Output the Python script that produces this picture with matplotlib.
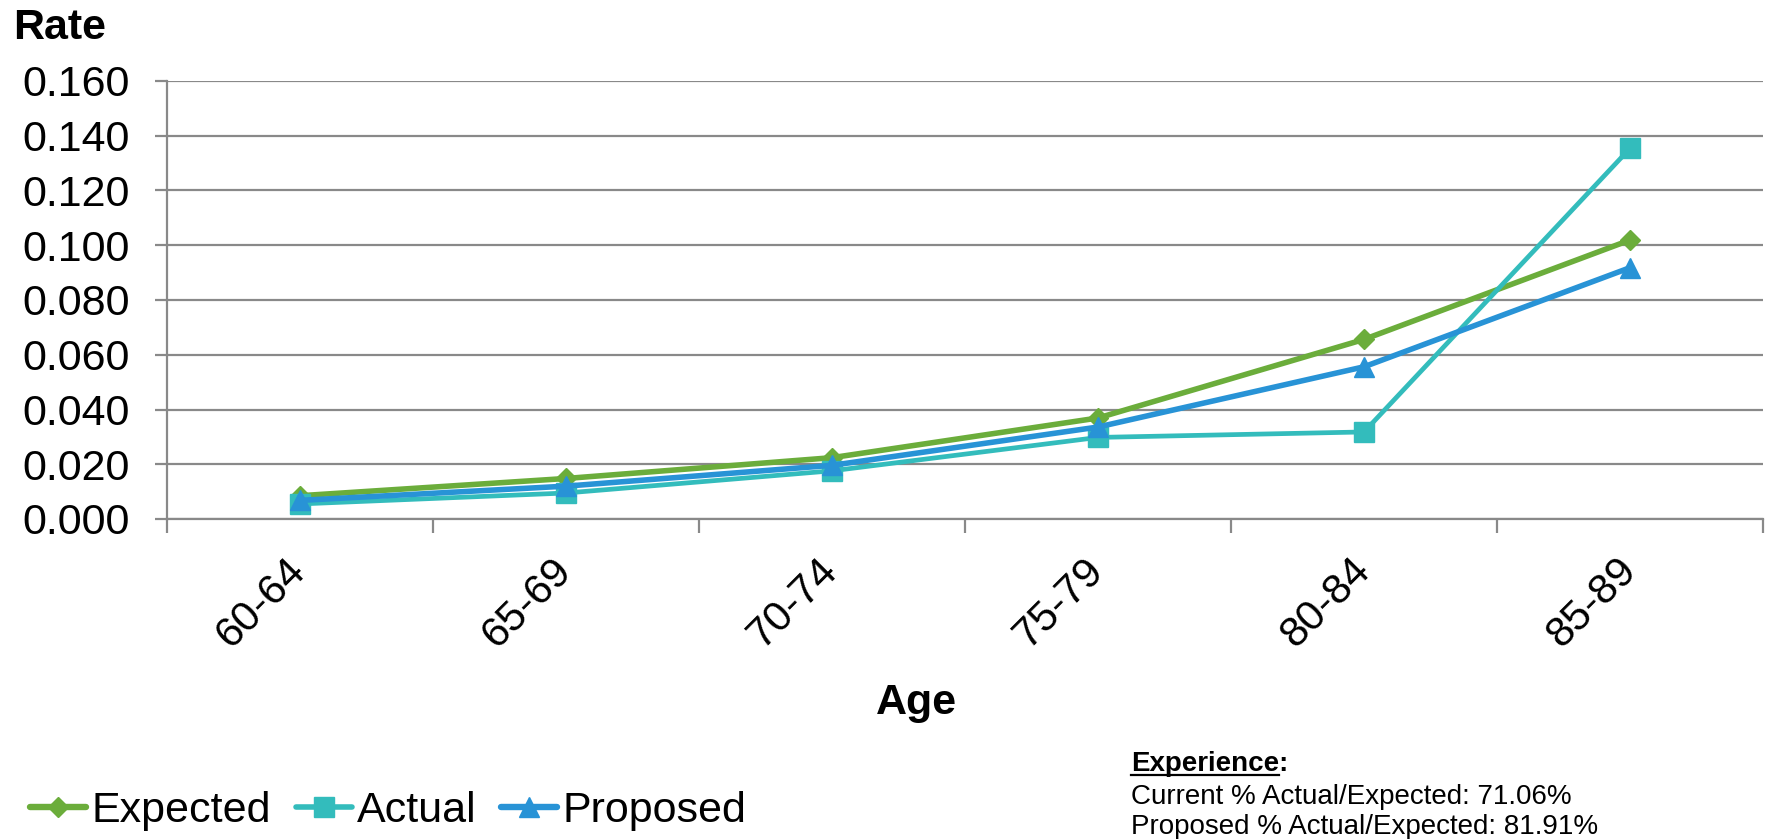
import matplotlib
matplotlib.use("Agg")
import matplotlib.pyplot as plt
from matplotlib.lines import Line2D
from matplotlib.ticker import FixedLocator, FormatStrFormatter
from matplotlib.transforms import ScaledTranslation

plt.rcParams['font.family'] = ['Liberation Sans', 'DejaVu Sans']

# Mortality-style rates by age band
age_bands = ["60-64", "65-69", "70-74", "75-79", "80-84", "85-89"]
expected = [0.0085, 0.0148, 0.0224, 0.0369, 0.0656, 0.1019]
actual = [0.0055, 0.0095, 0.0176, 0.0298, 0.0318, 0.1354]
proposed = [0.0068, 0.0120, 0.0196, 0.0336, 0.0556, 0.0918]

summary_title = "Experience"
summary_lines = ["Current % Actual/Expected: 71.06%",
                 "Proposed % Actual/Expected: 81.91%"]

GREEN = "#6BAD3B"
TEAL = "#33BCBC"
BLUE = "#2893D6"
GRID = "#898989"

W, H = 1773, 839
fig = plt.figure(figsize=(W / 100, H / 100), dpi=100)
ax = fig.add_axes([167 / W, 1 - 519 / H, (1763 - 167) / W, (519 - 81) / H])

series = [
    ("Expected", expected, GREEN, 4.0, "D", 10),
    ("Actual", actual, TEAL, 3.4, "s", 14),
    ("Proposed", proposed, BLUE, 4.0, "^", 14),
]

x = list(range(len(age_bands)))
handles = []
for z, (name, vals, col, lw, mk, ms) in enumerate(series):
    ax.plot(x, vals, color=col, lw=lw, marker=mk, ms=ms, zorder=3 + z)
    handles.append(Line2D([], [], color=col, lw=lw + 0.6, marker=mk, ms=ms,
                          solid_capstyle="round", label=name))

ax.set_xlim(-0.5, len(age_bands) - 0.5)
ax.set_ylim(0, 0.16)

# y axis: gridlines every 0.02
yt = [i * 0.02 for i in range(9)]
ax.set_yticks(yt)
ax.yaxis.set_major_formatter(FormatStrFormatter("%.3f"))
ax.grid(axis="y", color=GRID, lw=1.6, zorder=0)
ax.tick_params(axis="y", length=9, width=1.6, color=GRID, labelsize=31, pad=18)

# x axis: category labels centred, tick marks on boundaries
ax.set_xticks(x)
ax.set_xticklabels(age_bands, rotation=45, ha="right", va="center",
                   rotation_mode="anchor", fontsize=30.5)
shift = ScaledTranslation(7 / 72, 0, fig.dpi_scale_trans)
for lbl in ax.get_xticklabels():
    lbl.set_transform(lbl.get_transform() + shift)
ax.xaxis.set_minor_locator(FixedLocator([i - 0.5 for i in range(len(age_bands) + 1)]))
ax.tick_params(axis="x", which="major", length=0, pad=33)
ax.tick_params(axis="x", which="minor", length=10, width=1.6, color=GRID)

for s in ["top", "right"]:
    ax.spines[s].set_visible(False)
for s in ["left", "bottom"]:
    ax.spines[s].set_color(GRID)
    ax.spines[s].set_linewidth(1.6)
ax.set_axisbelow(True)

fig.text(13 / W, 1 - 28 / H, "Rate", fontsize=31, fontweight="bold",
         ha="left", va="center")
fig.text(916 / W, 1 - 703 / H, "Age", fontsize=31, fontweight="bold",
         ha="center", va="center")

fig.legend(handles=handles, loc="center left",
           bbox_to_anchor=(30 / W, 1 - 811 / H), frameon=False, ncol=3,
           fontsize=31, handlelength=1.3, handletextpad=0.12,
           columnspacing=0.58, borderpad=0, borderaxespad=0)

# summary block with underlined heading
tx = 1131 / W
fs = 20
fig.text(tx, 1 - 771 / H, summary_title + ":", fontsize=fs,
         fontweight="bold", ha="left", va="baseline")
for i, line in enumerate(summary_lines):
    fig.text(tx, 1 - (804 + 30 * i) / H, line, fontsize=fs,
             ha="left", va="baseline")

renderer = fig.canvas.get_renderer()
probe = fig.text(tx, 1 - 771 / H, summary_title, fontsize=fs,
                 fontweight="bold", ha="left", va="baseline")
bb = probe.get_window_extent(renderer)
probe.remove()
uy = 1 - 775 / H
fig.add_artist(Line2D([bb.x0 / W, bb.x1 / W], [uy, uy], color="black",
                      lw=1.6, transform=fig.transFigure))

fig.savefig("out.png", dpi=100)
